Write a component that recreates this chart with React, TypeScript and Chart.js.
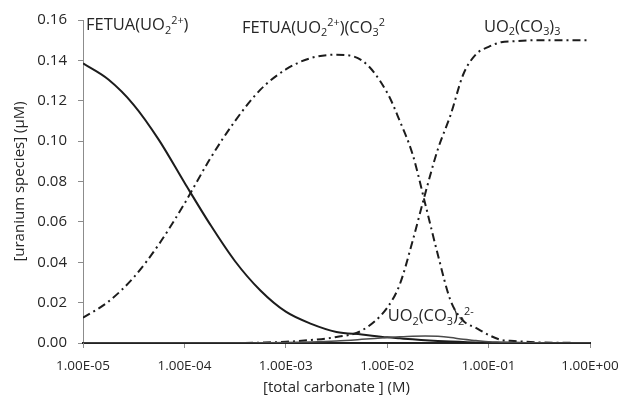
import React, { useEffect, useRef } from 'react';
import { Chart, registerables } from 'chart.js';

Chart.register(...registerables);

// total carbonate concentration (M)
const carbonate = [
  1.0e-5, 1.78e-5, 3.16e-5, 5.62e-5, 1.0e-4, 1.78e-4, 3.16e-4, 5.62e-4, 1.0e-3, 1.78e-3,
  3.16e-3, 5.62e-3, 1.0e-2, 1.33e-2, 1.78e-2, 2.37e-2, 3.16e-2, 4.22e-2, 5.62e-2, 7.5e-2,
  1.0e-1, 1.33e-1, 1.78e-1, 3.16e-1, 5.62e-1, 1.0,
];

// uranium species (µM)
const fetuaUO2 = [
  0.1385, 0.1305, 0.118, 0.1005, 0.0795, 0.059, 0.0405, 0.026, 0.0155, 0.0095,
  0.0055, 0.0042, 0.0028, 0.0023, 0.0018, 0.0014, 0.001, 0.0007, 0.0005, 0.0003,
  0.0002, 0.0001, 0.0001, 0, 0, 0,
];
const fetuaUO2CO3 = [
  0.0125, 0.0205, 0.0325, 0.049, 0.069, 0.091, 0.11, 0.1255, 0.1355, 0.1412,
  0.1428, 0.14, 0.124, 0.11, 0.0935, 0.069, 0.0437, 0.021, 0.011, 0.0075,
  0.004, 0.0015, 0.001, 0.0003, 0.0001, 0,
];
const uo2CO3_3 = [
  0, 0, 0, 0, 0, 0, 0, 0.0002, 0.0006, 0.0015,
  0.003, 0.0062, 0.0175, 0.029, 0.0505, 0.074, 0.096, 0.113, 0.133, 0.143,
  0.1467, 0.149, 0.1495, 0.15, 0.15, 0.15,
];
const uo2CO3_2 = [
  0, 0, 0, 0, 0, 0, 0, 0.0001, 0.0002, 0.0005,
  0.001, 0.0018, 0.0027, 0.0031, 0.0034, 0.0035, 0.0033, 0.0027, 0.0018, 0.0012,
  0.0006, 0.0004, 0.0002, 0.0001, 0, 0,
];

const xTickValues = [1e-5, 1e-4, 1e-3, 1e-2, 1e-1, 1];
const xTickLabels = ['1.00E-05', '1.00E-04', '1.00E-03', '1.00E-02', '1.00E-01', '1.00E+00'];
const yTickLabels = ['0.00', '0.02', '0.04', '0.06', '0.08', '0.10', '0.12', '0.14', '0.16'];

type Seg = { t: string; s?: 'sub' | 'sup' };
const speciesLabels: { x: number; y: number; segs: Seg[] }[] = [
  { x: 1.07e-5, y: 0.1548, segs: [{ t: 'FETUA(UO' }, { t: '2', s: 'sub' }, { t: '2+', s: 'sup' }, { t: ')' }] },
  {
    x: 3.7e-4,
    y: 0.1538,
    segs: [{ t: 'FETUA(UO' }, { t: '2', s: 'sub' }, { t: '2+', s: 'sup' }, { t: ')(CO' }, { t: '3', s: 'sub' }, { t: '2', s: 'sup' }],
  },
  { x: 9.0e-2, y: 0.1543, segs: [{ t: 'UO' }, { t: '2', s: 'sub' }, { t: '(CO' }, { t: '3', s: 'sub' }, { t: ')' }, { t: '3', s: 'sub' }] },
  {
    x: 1.01e-2,
    y: 0.0109,
    segs: [{ t: 'UO' }, { t: '2', s: 'sub' }, { t: '(CO' }, { t: '3', s: 'sub' }, { t: ')' }, { t: '2', s: 'sub' }, { t: '2-', s: 'sup' }],
  },
];

const FONT = '"Open Sans", sans-serif';
const TEXT = '#262626';
const LINE = '#1c1c1c';

const labelPlugin = {
  id: 'speciesLabels',
  afterDatasetsDraw(chart: any) {
    const { ctx, scales } = chart;
    const size = 16.5;
    ctx.save();
    ctx.fillStyle = TEXT;
    ctx.textBaseline = 'alphabetic';
    ctx.textAlign = 'left';
    for (const lab of speciesLabels) {
      let px = scales.x.getPixelForValue(lab.x);
      const py = scales.y.getPixelForValue(lab.y);
      for (const seg of lab.segs) {
        let fs = size;
        let dy = 0;
        if (seg.s === 'sub') {
          fs = size * 0.66;
          dy = size * 0.22;
        } else if (seg.s === 'sup') {
          fs = size * 0.66;
          dy = -size * 0.38;
        }
        ctx.font = `${fs}px ${FONT}`;
        ctx.fillText(seg.t, px, py + dy);
        px += ctx.measureText(seg.t).width;
      }
    }
    ctx.restore();
  },
};

function series(arr: number[]) {
  return carbonate.map((x, i) => ({ x, y: arr[i] }));
}

export default function App() {
  const ref = useRef<HTMLCanvasElement | null>(null);

  useEffect(() => {
    if (!ref.current) return;
    const yFont = { family: FONT, size: 15 };
    const xFont = { family: FONT, size: 13.5 };
    const chart = new Chart(ref.current, {
      type: 'line',
      data: {
        datasets: [
          {
            label: 'UO2(CO3)2 2-',
            data: series(uo2CO3_2),
            borderColor: '#4a4a4a',
            borderWidth: 1.5,
          },
          {
            label: 'FETUA(UO2 2+)',
            data: series(fetuaUO2),
            borderColor: LINE,
            borderWidth: 2,
          },
          {
            label: 'FETUA(UO2 2+)(CO3 2-)',
            data: series(fetuaUO2CO3),
            borderColor: LINE,
            borderWidth: 2,
            borderDash: [8, 4, 2, 4],
          },
          {
            label: 'UO2(CO3)3',
            data: series(uo2CO3_3),
            borderColor: LINE,
            borderWidth: 2,
            borderDash: [8, 4, 2, 4],
          },
        ],
      },
      options: {
        responsive: false,
        animation: false,
        layout: { padding: { top: 20, right: 31, left: 0, bottom: 0 }, autoPadding: false },
        plugins: { legend: { display: false }, tooltip: { enabled: false } },
        elements: {
          point: { radius: 0 },
          line: { cubicInterpolationMode: 'monotone', fill: false },
        },
        scales: {
          x: {
            type: 'logarithmic',
            min: 1e-5,
            max: 1,
            afterBuildTicks: (s: any) => {
              s.ticks = xTickValues.map((v) => ({ value: v }));
            },
            afterFit: (s: any) => {
              s.height = 58;
              s.paddingLeft = 0;
              s.paddingRight = 0;
            },
            ticks: {
              callback: (_v: any, i: number) => xTickLabels[i],
              font: xFont,
              color: TEXT,
              padding: 10,
              maxRotation: 0,
              autoSkip: false,
            },
            grid: { drawOnChartArea: false, tickLength: 5, color: '#8c8c8c' },
            border: { color: '#222', width: 2 },
            title: {
              display: true,
              text: '[total carbonate ] (M)',
              font: yFont,
              color: TEXT,
              padding: { top: 0, bottom: 4 },
            },
          },
          y: {
            min: 0,
            max: 0.16,
            afterBuildTicks: (s: any) => {
              s.ticks = yTickLabels.map((t) => ({ value: parseFloat(t) }));
            },
            afterFit: (s: any) => {
              s.width = 83;
              s.paddingTop = 0;
              s.paddingBottom = 0;
            },
            ticks: {
              callback: (_v: any, i: number) => yTickLabels[i],
              font: yFont,
              color: TEXT,
              padding: 11,
            },
            grid: { drawOnChartArea: false, tickLength: 5, color: '#8c8c8c' },
            border: { color: '#8c8c8c', width: 1 },
            title: {
              display: true,
              text: '[uranium species] (µM)',
              font: yFont,
              color: TEXT,
              padding: { top: 11, bottom: 0 },
            },
          },
        },
      },
      plugins: [labelPlugin],
    } as any);
    return () => chart.destroy();
  }, []);

  return (
    <div style={{ position: 'absolute', left: 0, top: 0, width: 621, height: 401, background: '#fff' }}>
      <canvas ref={ref} width={621} height={401} />
    </div>
  );
}
